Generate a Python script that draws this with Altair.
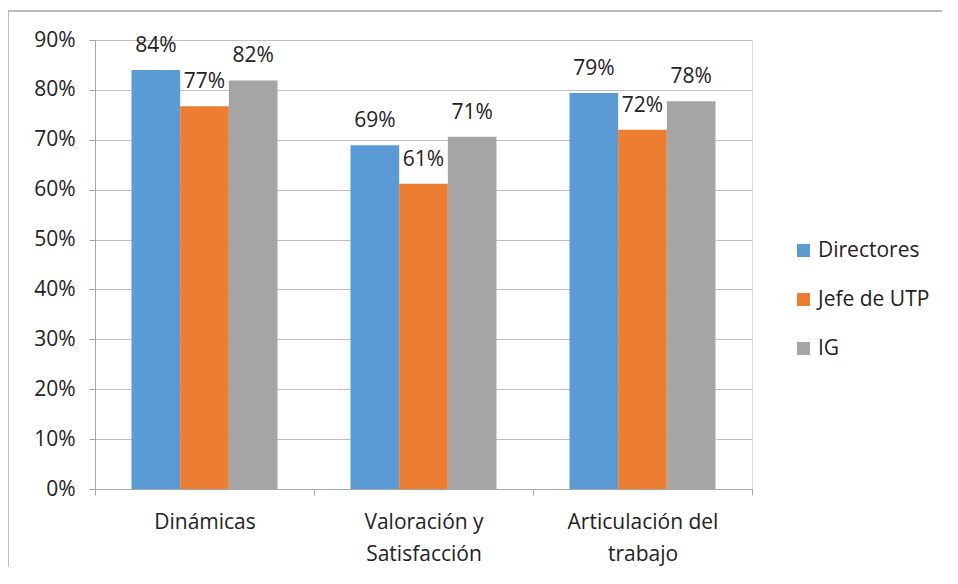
import altair as alt
import pandas as pd

categories = ["Dinámicas", "Valoración y\nSatisfacción", "Articulación del\ntrabajo"]
series = ["Directores", "Jefe de UTP", "IG"]
directores = [0.840, 0.689, 0.794]
jefe_utp = [0.767, 0.612, 0.720]
ig = [0.819, 0.706, 0.777]
colors = ["#5B9BD5", "#ED7D31", "#A5A5A5"]
y_ticks = [0, 0.1, 0.2, 0.3, 0.4, 0.5, 0.6, 0.7, 0.8, 0.9]

rows = []
for s, vals in zip(series, [directores, jefe_utp, ig]):
    for c, v in zip(categories, vals):
        rows.append({"categoria": c, "serie": s, "valor": v})
df = pd.DataFrame(rows)

FONT = "Open Sans"
W, H = 657, 449
PAD = {"left": 87, "top": 32, "right": 190, "bottom": 78}

x = alt.X("categoria:N", sort=categories, title=None,
          scale=alt.Scale(paddingInner=0, paddingOuter=0),
          axis=alt.Axis(labelAngle=0, labelFontSize=21, labelFont=FONT, labelColor="#222222",
                        labelExpr="split(datum.label, '\\n')", labelLineHeight=32,
                        labelPadding=16, tickBand="extent", tickSize=6,
                        tickColor="#A6A6A6", domainColor="#A6A6A6", grid=False,
                        labelBaseline="top"))
xo = alt.XOffset("serie:N", sort=series, scale=alt.Scale(paddingInner=0, paddingOuter=0.75))
y = alt.Y("valor:Q", title=None,
          scale=alt.Scale(domain=[0, 0.9], nice=False),
          axis=alt.Axis(values=y_ticks, format=".0%", labelFontSize=21, labelFont=FONT,
                        labelColor="#222222", labelPadding=14, tickSize=6,
                        tickColor="#A6A6A6", domainColor="#A6A6A6",
                        gridColor="#BFBFBF", grid=True))
color = alt.Color("serie:N", sort=series, title=None,
                  scale=alt.Scale(domain=series, range=colors),
                  legend=alt.Legend(orient="none", legendX=698, legendY=200,
                                    symbolType="square", symbolSize=169, symbolStrokeWidth=0,
                                    labelFontSize=21, labelFont=FONT, labelColor="#222222",
                                    labelOffset=4, rowPadding=27, padding=0))

bars = alt.Chart(df).mark_bar().encode(x=x, xOffset=xo, y=y, color=color)

labels = alt.Chart(df).mark_text(baseline="alphabetic", dy=-18, fontSize=21, font=FONT,
                                 color="#222222").encode(
    x=alt.X("categoria:N", sort=categories),
    xOffset=alt.XOffset("serie:N", sort=series),
    y=alt.Y("valor:Q"),
    text=alt.Text("valor:Q", format=".0%"))

frame = pd.DataFrame({"a": [0]})
top_edge = alt.Chart(frame).mark_rule(stroke="#A6A6A6", strokeWidth=1.5, clip=False).encode(
    x=alt.value(-PAD["left"]), x2=alt.value(W + PAD["right"]), y=alt.value(-29))
left_edge = alt.Chart(frame).mark_rule(stroke="#A6A6A6", strokeWidth=1.5, clip=False).encode(
    x=alt.value(-PAD["left"]), y=alt.value(-29), y2=alt.value(H + PAD["bottom"]))

chart = alt.layer(top_edge, left_edge, bars, labels).properties(
    width=W, height=H,
    autosize=alt.AutoSizeParams(type="none"),
    padding=PAD,
).configure_view(stroke=None).configure(background="white")

chart.save("out.html", embed_options={"renderer": "svg", "actions": False})
